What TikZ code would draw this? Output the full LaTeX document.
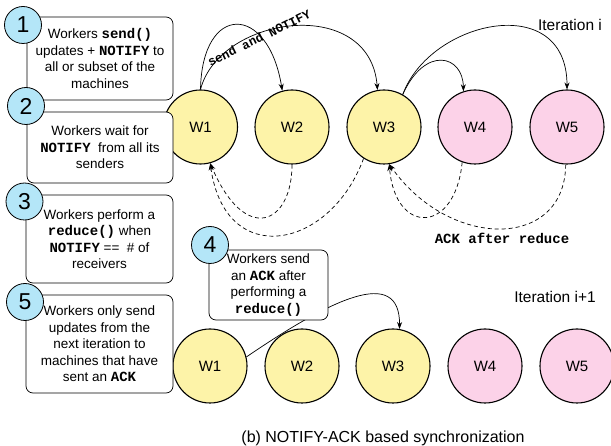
\documentclass[tikz,border=0pt]{standalone}
\usepackage{fontspec}
\setmainfont{Liberation Sans}
\setmonofont{Liberation Mono}
\usetikzlibrary{arrows.meta}
\definecolor{wyellow}{HTML}{FDF3A8}
\definecolor{wpink}{HTML}{FCD2E8}
\definecolor{nblue}{HTML}{B4E6F8}
\newcommand\mycode[1]{{\fontsize{14}{16.5}\selectfont\ttfamily\bfseries #1}}
\begin{document}
\begin{tikzpicture}[x=1pt,y=-1pt,
  worker/.style={circle, draw, line width=1.1pt, minimum size=74pt, inner sep=0pt, font=\fontsize{15}{18}\selectfont},
  yw/.style={worker, fill=wyellow},
  pw/.style={worker, fill=wpink},
  stepbox/.style={draw, line width=0.7pt, rounded corners=7pt, fill=white, align=center, inner sep=0pt, font=\fontsize{13.5}{16.5}\selectfont},
  numc/.style={circle, draw, line width=0.8pt, fill=nblue, minimum size=37pt, inner sep=0pt, font=\fontsize{23}{23}\selectfont},
  arr/.style={line width=0.7pt, -{Stealth[length=7pt,width=5pt]}},
  darr/.style={arr, dashed, dash pattern=on 4pt off 3pt}
]
\path[use as bounding box] (0,0) rectangle (611,446);

% top row
\node[yw] (w1) at (200.5,127) {W1};
\node[yw] (w2) at (292,127) {W2};
\node[yw] (w3) at (384,127) {W3};
\node[pw] (w4) at (475,127) {W4};
\node[pw] (w5) at (567,127) {W5};

% bottom row
\node[yw] (b1) at (210,366) {W1};
\node[yw] (b2) at (302,366) {W2};
\node[yw] (b3) at (393,366) {W3};
\node[pw] (b4) at (485,366) {W4};
\node[pw] (b5) at (577,366) {W5};

% send arrows
\draw[arr] (w1.90) .. controls (202,3) and (268,3) .. (w2.105);
\draw[arr] (w1.90) .. controls (220,15) and (370,-5) .. (w3.100);
\draw[arr] (w3.60) .. controls (425,45) and (463,55) .. (w4.108);
\draw[arr] (w3.60) .. controls (430,20) and (567,-10) .. (w5.90);
\node[rotate=26, font=\fontsize{12.5}{14}\selectfont\ttfamily\bfseries] (sn) at (259,38) {send and NOTIFY};

% ack arrows
\draw[darr] (w2.-90) .. controls (292,225) and (245,245) .. (w1.-75);
\draw[darr] (w3.-123) .. controls (330,250) and (225,270) .. (w1.-75);
\draw[darr] (w4.-110) .. controls (455,235) and (395,235) .. (w3.-82);
\draw[darr] (w5.-92) .. controls (565,250) and (450,250) .. (w3.-82);
\node[font=\fontsize{14}{16}\selectfont\ttfamily\bfseries] (ack) at (502,238) {ACK after reduce};

\node[font=\fontsize{15.5}{18}\selectfont] (it1) at (570,25) {Iteration i};
\node[font=\fontsize{15.5}{18}\selectfont] (it2) at (555,297) {Iteration i+1};

% bottom arrow (behind box 4)
\draw[arr] (b1.14) .. controls (330,300) and (400,265) .. (b3.80);

% boxes
\node[stepbox, minimum width=146pt, minimum height=83pt] (box1) at (100,58.5)
  {Workers \mycode{send()}\\updates + \mycode{NOTIFY} to\\all or subset of the\\machines};
\node[stepbox, minimum width=146pt, minimum height=71pt] (box2) at (100,147.5)
  {Workers wait for\\\mycode{NOTIFY}~ from all its\\senders};
\node[stepbox, minimum width=147pt, minimum height=88pt] (box3) at (99.5,239)
  {Workers perform a\\\mycode{reduce()} when\\\mycode{NOTIFY} == ~\# of\\receivers};
\node[stepbox, minimum width=147pt, minimum height=98pt] (box5) at (99.5,344)
  {Workers only send\\updates from the\\next iteration to\\machines that have\\sent an \mycode{ACK}};
\node[stepbox, minimum width=119pt, minimum height=70pt] (box4) at (268.5,285)
  {Workers send\\an \mycode{ACK} after\\performing a\\\mycode{reduce()}};

% number circles
\node[numc] (n1) at (23,25) {1};
\node[numc] (n2) at (26,106) {2};
\node[numc] (n3) at (24.5,201.5) {3};
\node[numc] (n4) at (210,245) {4};
\node[numc] (n5) at (25,302) {5};

\node[font=\fontsize{16}{19}\selectfont] (cap) at (383,438) {(b) NOTIFY-ACK based synchronization};
\end{tikzpicture}
\end{document}
